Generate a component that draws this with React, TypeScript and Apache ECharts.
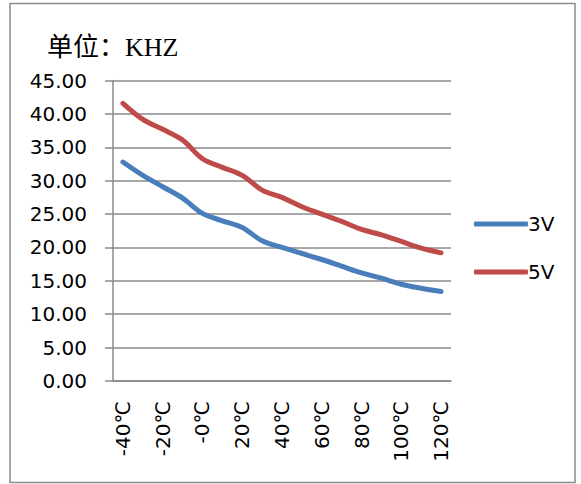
import React, { useEffect, useRef } from "react";
import * as echarts from "echarts";

const categories = [
  "-40℃", "-30℃", "-20℃", "-10℃", "-0℃", "10℃", "20℃", "30℃", "40℃",
  "50℃", "60℃", "70℃", "80℃", "90℃", "100℃", "110℃", "120℃",
];
const series3V = [32.8, 30.8, 29.1, 27.4, 25.1, 24.0, 23.0, 21.0, 20.0, 19.1, 18.2, 17.2, 16.2, 15.4, 14.5, 13.9, 13.4];
const series5V = [41.6, 39.2, 37.7, 36.1, 33.3, 32.0, 30.8, 28.6, 27.5, 26.1, 25.0, 23.9, 22.7, 21.9, 20.9, 19.9, 19.2];
const seriesNames = ["3V", "5V"];
const yTicks = { min: 0, max: 45, interval: 5 };
const titleText = "单位：KHZ";

export default function App() {
  const ref = useRef<HTMLDivElement>(null);
  useEffect(() => {
    if (!ref.current) return;
    const chart = echarts.init(ref.current, null, { renderer: "svg" });
    const labelFont = "DejaVu Sans";
    chart.setOption({
      animation: false,
      backgroundColor: "#ffffff",
      title: {
        text: titleText,
        left: 42,
        top: 29,
        textStyle: {
          fontFamily: "Liberation Serif, Noto Sans CJK SC",
          fontSize: 26,
          fontWeight: "normal",
          color: "#000000",
        },
      },
      graphic: [
        {
          type: "rect",
          shape: { x: 10, y: 3.5, width: 565, height: 479 },
          style: { fill: "none", stroke: "#8a8a8a", lineWidth: 1.5 },
          silent: true,
        },
      ],
      grid: { left: 113, right: 130, top: 80.6, bottom: 103, containLabel: false },
      legend: {
        orient: "vertical",
        left: 469,
        top: 209,
        itemWidth: 54,
        itemHeight: 5,
        itemGap: 28,
        icon: "roundRect",
        textStyle: { fontFamily: labelFont, fontSize: 20, color: "#000000", lineHeight: 20, padding: [0, 0, 0, -5] },
        data: seriesNames,
      },
      xAxis: {
        type: "category",
        data: categories,
        boundaryGap: true,
        axisLine: { lineStyle: { color: "#8a8a8a", width: 1.5 } },
        axisTick: { interval: 0, length: 6, lineStyle: { color: "#8a8a8a", width: 1.5 } },
        axisLabel: {
          interval: 1,
          rotate: 90,
          margin: 20,
          fontFamily: labelFont,
          fontSize: 20,
          color: "#000000",
        },
        splitLine: { show: false },
      },
      yAxis: {
        type: "value",
        min: yTicks.min,
        max: yTicks.max,
        interval: yTicks.interval,
        axisLine: { show: true, lineStyle: { color: "#8a8a8a", width: 1.5 } },
        axisTick: { show: true, length: 8, lineStyle: { color: "#8a8a8a", width: 1.5 } },
        axisLabel: {
          margin: 26,
          fontFamily: labelFont,
          fontSize: 20,
          color: "#000000",
          formatter: (v: number) => v.toFixed(2),
        },
        splitLine: { show: true, lineStyle: { color: "#8a8a8a", width: 1.5 } },
      },
      series: [
        {
          name: seriesNames[0],
          type: "line",
          data: series3V,
          smooth: 0.35,
          showSymbol: false,
          symbol: "none",
          lineStyle: { color: "#4a7ebb", width: 5, cap: "round", join: "round" },
          itemStyle: { color: "#4a7ebb" },
        },
        {
          name: seriesNames[1],
          type: "line",
          data: series5V,
          smooth: 0.35,
          showSymbol: false,
          symbol: "none",
          lineStyle: { color: "#be4b48", width: 5, cap: "round", join: "round" },
          itemStyle: { color: "#be4b48" },
        },
      ],
    });
    return () => chart.dispose();
  }, []);
  return (
    <div
      ref={ref}
      style={{ position: "fixed", left: 0, top: 0, width: 581, height: 484 }}
    />
  );
}
